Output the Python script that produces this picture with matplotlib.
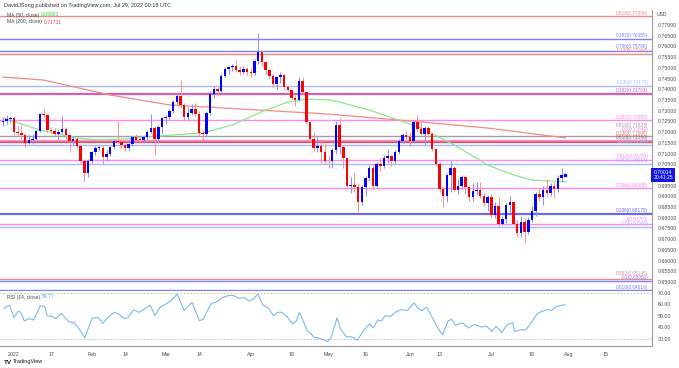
import numpy as np
import pandas as pd
import matplotlib
matplotlib.use('Agg')
import matplotlib.pyplot as plt
import matplotlib.transforms as mtransforms

plt.rcParams['font.family'] = ['Liberation Sans', 'DejaVu Sans']

# daily bars, 29 Dec 2021 .. 29 Jul 2022
dates = pd.bdate_range('2021-12-29', '2022-07-29')
first_open = 0.7245
close = [0.7252, 0.7262, 0.7266,
         0.7200, 0.7194, 0.7185, 0.7150, 0.7162, 0.7170, 0.7205, 0.7285, 0.7280, 0.7212,
         0.7206, 0.7190, 0.7200, 0.7213, 0.7185, 0.7160, 0.7170, 0.7135, 0.7063, 0.7010,
         0.7065, 0.7105, 0.7125, 0.7128, 0.7082, 0.7100, 0.7130, 0.7160, 0.7155, 0.7140,
         0.7128, 0.7145, 0.7175, 0.7165, 0.7162, 0.7178, 0.7200, 0.7220, 0.7168, 0.7225,
         0.7265, 0.7270, 0.7300, 0.7340, 0.7370, 0.7325, 0.7270, 0.7290, 0.7310, 0.7285,
         0.7195, 0.7190, 0.7290, 0.7380, 0.7402, 0.7390, 0.7460, 0.7495, 0.7505, 0.7508,
         0.7490, 0.7482, 0.7495, 0.7480, 0.7475, 0.7530, 0.7575, 0.7525, 0.7490, 0.7460,
         0.7425, 0.7455, 0.7465, 0.7410, 0.7395, 0.7360, 0.7350, 0.7440, 0.7385, 0.7245,
         0.7170, 0.7125, 0.7135, 0.7105, 0.7065, 0.7063, 0.7115, 0.7235, 0.7130, 0.7080,
         0.6950, 0.6955, 0.6945, 0.6875, 0.6945, 0.6985, 0.7030, 0.6950, 0.7050, 0.7040,
         0.7080, 0.7090, 0.7065, 0.7105, 0.7160, 0.7185, 0.7175, 0.7160, 0.7245, 0.7215,
         0.7190, 0.7220, 0.7190, 0.7120, 0.7050, 0.6935, 0.6900, 0.7000, 0.7030, 0.6930,
         0.6950, 0.6990, 0.6945, 0.6895, 0.6925, 0.6930, 0.6900, 0.6870, 0.6895, 0.6815,
         0.6855, 0.6770, 0.6795, 0.6860, 0.6875, 0.6770, 0.6730, 0.6780, 0.6735, 0.6790,
         0.6830, 0.6910, 0.6895, 0.6930, 0.6915, 0.6950, 0.6935, 0.6985, 0.7000, 0.7001]
high = [0.7268, 0.7278, 0.7277,
        0.7276, 0.7228, 0.7235, 0.7192, 0.7187, 0.7190, 0.7212, 0.7290, 0.7314, 0.7285,
        0.7225, 0.7217, 0.7215, 0.7275, 0.7222, 0.7193, 0.7180, 0.7175, 0.7140, 0.7070,
        0.7075, 0.7110, 0.7135, 0.7140, 0.7142, 0.7115, 0.7135, 0.7165, 0.7250, 0.7170,
        0.7145, 0.7150, 0.7182, 0.7190, 0.7175, 0.7185, 0.7210, 0.7285, 0.7230, 0.7235,
        0.7270, 0.7280, 0.7310, 0.7350, 0.7380, 0.7441, 0.7335, 0.7315, 0.7330, 0.7335,
        0.7300, 0.7210, 0.7300, 0.7390, 0.7415, 0.7410, 0.7470, 0.7505, 0.7510, 0.7520,
        0.7535, 0.7510, 0.7510, 0.7505, 0.7500, 0.7540, 0.7661, 0.7580, 0.7530, 0.7495,
        0.7470, 0.7462, 0.7480, 0.7470, 0.7415, 0.7400, 0.7375, 0.7458, 0.7455, 0.7390,
        0.7250, 0.7200, 0.7175, 0.7160, 0.7150, 0.7090, 0.7125, 0.7250, 0.7266, 0.7135,
        0.7080, 0.6990, 0.7015, 0.6960, 0.6955, 0.6995, 0.7050, 0.7050, 0.7060, 0.7080,
        0.7095, 0.7120, 0.7095, 0.7115, 0.7170, 0.7195, 0.7205, 0.7200, 0.7250, 0.7280,
        0.7245, 0.7230, 0.7230, 0.7200, 0.7125, 0.7060, 0.6945, 0.7010, 0.7069, 0.7040,
        0.6980, 0.7000, 0.6995, 0.6955, 0.6960, 0.6965, 0.6965, 0.6915, 0.6905, 0.6910,
        0.6875, 0.6895, 0.6810, 0.6870, 0.6900, 0.6880, 0.6790, 0.6810, 0.6800, 0.6805,
        0.6855, 0.6920, 0.6940, 0.6950, 0.6980, 0.6960, 0.6965, 0.7000, 0.7030, 0.7005]
low = [0.7230, 0.7240, 0.7243,
       0.7188, 0.7180, 0.7170, 0.7130, 0.7145, 0.7143, 0.7155, 0.7200, 0.7270, 0.7202,
       0.7195, 0.7180, 0.7170, 0.7190, 0.7170, 0.7105, 0.7140, 0.7125, 0.7050, 0.6968,
       0.6990, 0.7055, 0.7095, 0.7110, 0.7050, 0.7065, 0.7090, 0.7120, 0.7150, 0.7120,
       0.7110, 0.7110, 0.7135, 0.7155, 0.7150, 0.7150, 0.7160, 0.7195, 0.7094, 0.7150,
       0.7190, 0.7240, 0.7255, 0.7290, 0.7330, 0.7315, 0.7250, 0.7255, 0.7280, 0.7275,
       0.7180, 0.7165, 0.7180, 0.7280, 0.7360, 0.7370, 0.7385, 0.7455, 0.7470, 0.7485,
       0.7480, 0.7465, 0.7470, 0.7465, 0.7455, 0.7465, 0.7520, 0.7510, 0.7470, 0.7450,
       0.7410, 0.7400, 0.7430, 0.7400, 0.7390, 0.7355, 0.7320, 0.7345, 0.7375, 0.7240,
       0.7155, 0.7110, 0.7105, 0.7055, 0.7055, 0.7030, 0.7030, 0.7100, 0.7100, 0.7030,
       0.6945, 0.6915, 0.6920, 0.6829, 0.6860, 0.6900, 0.6970, 0.6935, 0.6945, 0.7020,
       0.7030, 0.7055, 0.7040, 0.7055, 0.7100, 0.7150, 0.7165, 0.7135, 0.7150, 0.7200,
       0.7185, 0.7140, 0.7175, 0.7110, 0.7040, 0.6920, 0.6850, 0.6875, 0.6920, 0.6925,
       0.6910, 0.6935, 0.6910, 0.6880, 0.6880, 0.6905, 0.6890, 0.6855, 0.6830, 0.6805,
       0.6800, 0.6762, 0.6765, 0.6775, 0.6825, 0.6765, 0.6715, 0.6710, 0.6681, 0.6725,
       0.6780, 0.6810, 0.6880, 0.6860, 0.6900, 0.6900, 0.6890, 0.6920, 0.6965, 0.6995]

# moving averages, read at a few bars (bar 0 = 3 Jan 2022)
ma50_bar = [-3, 7, 17, 23, 30, 39, 51, 59, 68, 74, 79, 85, 88, 96, 104, 110, 119, 128, 135, 140, 149]
ma50_val = [0.7266, 0.7210, 0.7172, 0.7163, 0.7168, 0.7182, 0.7196, 0.7233, 0.7303, 0.7340, 0.7354,
            0.7350, 0.7340, 0.7303, 0.7256, 0.7219, 0.7140, 0.7046, 0.7000, 0.6976, 0.6968]
ma200_bar = [-3, 8, 26, 42, 64, 85, 107, 128, 149]
ma200_val = [0.7457, 0.7443, 0.7373, 0.7327, 0.7305, 0.7284, 0.7252, 0.7219, 0.7173]

rsi_bar = [-2.7, -1.2, 0, 1.1, 1.8, 2.8, 4.1, 5.3, 7.1, 8.3, 9, 10.3, 11.3, 12.8, 13.8, 14.8, 16.3,
           17.8, 19.1, 21.1, 22.8, 24, 25.3, 27.1, 28.3, 29.8, 30.8, 32.3, 33.8, 35.3, 36.8, 38.1,
           39.5, 40.8, 42.3, 44.1, 46, 48.1, 50.1, 51.1, 53.3, 54.8, 56.3, 58.1, 59.3, 60.8, 62.3,
           63.5, 64.8, 65.9, 67.3, 68.8, 70.1, 71.3, 72.3, 73.8, 75.3, 76.3, 77.1, 79.3, 81.3, 82.8,
           84.8, 85.8, 87.3, 88.3, 89.8, 91.3, 92.8, 94.3, 96.1, 97.1, 98.3, 99.3, 100.3, 101.8,
           103.3, 104.8, 106.3, 108.1, 109.3, 110.3, 111.5, 112.8, 114.3, 115.8, 117.3, 118.3,
           119.3, 121.3, 122.8, 124.3, 126.3, 127.8, 129.1, 130.3, 131.8, 133.3, 134.8, 135.3,
           136.8, 138.3, 139.8, 141.3, 142.8, 144.1, 145.3, 146.3, 147.8, 149]
rsi_val = [56.9, 59.3, 48.6, 54.1, 53.2, 45.6, 47.7, 46.5, 58.7, 58.4, 50.2, 49.5, 47.7, 52.3, 48.6,
           45.0, 44.0, 37.9, 30.9, 48.0, 48.6, 43.4, 48.6, 53.2, 51.7, 47.7, 48.6, 55.3, 53.2, 56.3,
           59.3, 50.2, 57.8, 59.9, 63.0, 69.1, 54.7, 61.8, 45.9, 47.1, 60.8, 62.4, 66.0, 67.9, 67.9,
           65.4, 66.0, 63.0, 64.8, 69.4, 59.3, 56.9, 50.2, 53.2, 53.2, 49.5, 43.1, 45.6, 53.2, 37.0,
           31.2, 30.3, 27.6, 31.8, 48.3, 38.5, 31.8, 31.8, 28.8, 36.4, 43.1, 39.5, 46.5, 45.6, 50.2,
           49.5, 53.8, 55.6, 54.7, 61.5, 56.3, 54.7, 57.8, 50.2, 41.0, 33.4, 45.6, 47.1, 41.9, 44.0,
           39.5, 42.5, 40.4, 41.0, 36.4, 41.0, 35.5, 42.5, 44.0, 36.4, 37.9, 37.9, 44.0, 51.7, 54.1,
           55.6, 54.7, 57.8, 59.3, 59.77]

# fibonacci levels: (level text, price, colour, width)
fib_levels = [
    ('0.618', 0.77399, '#e88a8a', 1.0),
    ('0.382', 0.76355, '#7f7fff', 1.0),
    ('0.786', 0.75796, '#7f7fff', 1.0),
    ('0.100', 0.75660, '#e88a8a', 1.0),
    ('0.236', 0.74170, '#a8b8ff', 1.0),
    ('0.382', 0.73793, '#d65db1', 1.6),
    ('0.382', 0.72557, '#ff88ee', 1.0),
    ('0.618', 0.71823, '#a0a0a0', 1.0),
    ('0.5', 0.71642, '#ff88ee', 1.0),
    ('0.236', 0.71590, '#e07070', 1.0),
    ('0.618', 0.71550, '#b06060', 1.0),
    ('0.382', 0.71400, '#a8b8ff', 1.0),
    ('0.618', 0.70704, '#ff88ee', 1.0),
    ('0.382', 0.70514, '#a8b8ff', 1.0),
    ('0.786', 0.69380, '#ff88ee', 1.0),
    ('0.236', 0.68170, '#6b6be8', 1.6),
    ('1', 0.67700, '#ff88ee', 1.0),
    ('0.5', 0.67580, '#a8b8ff', 1.0),
    ('0.382', 0.65145, '#e88a8a', 1.0),
    ('0.1', 0.65050, '#7f7fff', 1.0),
    ('0.618', 0.64616, '#7f7fff', 1.0),
]

x_labels = ['2022', '17', 'Feb', '14', 'Mar', '14', 'Apr', '18', 'May', '16', 'Jun', '13', 'Jul', '18', 'Aug', '15']
x_label_bar = [0, 10, 21, 30, 41, 50, 64, 75, 85, 95, 107, 115, 129, 140, 150, 160]

UP = '#0000ff'
DOWN = '#ff0000'
TXT = '#4a4a4a'

bars = np.arange(len(dates)) - 3
c = np.array(close)
o = np.concatenate([[first_open], c[:-1]])   # fx daily bars open at prior close
h = np.array(high)
l = np.array(low)
up = c >= o

W, H = 679, 368
fig = plt.figure(figsize=(W / 100, H / 100), dpi=100, facecolor='white')
ax = fig.add_axes([0, 1 - 291 / H, 652 / W, 281 / H])
ax_rsi = fig.add_axes([0, 1 - 346 / H, 652 / W, 55 / H], sharex=ax)

xmin, xmax = -14 / 3.7, (652 - 14) / 3.7

# fib lines, label sits just above its line; crowded labels are pushed up a bit
last_y = None
for lvl, price, col, lw in sorted(fib_levels, key=lambda f: f[1]):
    ax.axhline(price, color=col, lw=lw, zorder=1)
    ty = price + 0.0003
    if last_y is not None and ty < last_y + 0.0019:
        ty = last_y + 0.0019
    last_y = ty
    ax.text(xmax - 1, ty, '%s(%.5f)' % (lvl, price), color=col, fontsize=3.4,
            ha='right', va='bottom', zorder=5)

ax.plot(ma200_bar, ma200_val, color='#f28b82', lw=0.9, zorder=2)
ax.plot(ma50_bar, ma50_val, color='#8ee68e', lw=0.9, zorder=2)

# candles
cols = np.where(up, UP, DOWN)
wcols = np.where(up, '#8c8cff', '#ff9090')
ax.vlines(bars, l, h, colors=wcols, lw=0.7, zorder=3)
body_lo = np.minimum(o, c)
body_h = np.maximum(np.abs(c - o), 0.00035)
ax.bar(bars, body_h, bottom=body_lo, width=0.66, color=cols, lw=0, zorder=4)

ax.set_xlim(xmin, xmax)
ax.set_ylim(0.77 - 266 / 2141.7, 0.77 + 15 / 2141.7)
ax.yaxis.tick_right()
yt = [v for v in np.arange(0.65, 0.7701, 0.005) if abs(v - 0.70) > 1e-6]   # 0.70000 sits under the price tag
ax.set_yticks(yt)
ax.yaxis.set_major_formatter(matplotlib.ticker.FormatStrFormatter('%.5f'))
ax.tick_params(axis='y', length=0, labelsize=3.8, labelcolor=TXT, pad=4)
ax.tick_params(axis='x', bottom=False, labelbottom=False)
for s in ['left', 'top']:
    ax.spines[s].set_visible(False)
ax.spines['right'].set_color('#9a9a9a')
ax.spines['right'].set_linewidth(0.8)
ax.spines['bottom'].set_color('#d8d8d8')
ax.spines['bottom'].set_linewidth(0.6)

# last price tag
tr = mtransforms.blended_transform_factory(ax.transAxes, ax.transData)
ax.text(1.002, c[-1], '%.5f\n20:41:25' % 0.70014, transform=tr, fontsize=3.6, color='white',
        ha='left', va='center', linespacing=1.1,
        bbox=dict(boxstyle='square,pad=0.4', fc='#1515e0', ec='none'), clip_on=False, zorder=10)
ax.plot([bars[-1]], [c[-1]], marker='s', ms=1.6, color=UP, zorder=5)

# rsi pane
ax_rsi.plot(rsi_bar, rsi_val, color='#7db9f0', lw=0.8)
for lv in (70, 30):
    ax_rsi.axhline(lv, color='#b8b8b8', lw=0.6, ls=(0, (2, 2)))
ax_rsi.set_ylim(30 - 7 / 1.125, 70 + 2 / 1.125)
ax_rsi.yaxis.tick_right()
ax_rsi.set_yticks([30, 40, 50, 60, 70])
ax_rsi.yaxis.set_major_formatter(matplotlib.ticker.FormatStrFormatter('%.2f'))
ax_rsi.tick_params(axis='y', length=0, labelsize=3.8, labelcolor=TXT, pad=4)
ax_rsi.set_xticks(x_label_bar)
ax_rsi.set_xticklabels(x_labels)
ax_rsi.tick_params(axis='x', length=0, labelsize=3.8, labelcolor=TXT, pad=4)
for s in ['left', 'top']:
    ax_rsi.spines[s].set_visible(False)
ax_rsi.spines['right'].set_color('#9a9a9a')
ax_rsi.spines['right'].set_linewidth(0.8)
ax_rsi.spines['bottom'].set_color('#9a9a9a')
ax_rsi.spines['bottom'].set_linewidth(0.8)

# header texts
fig.text(4 / W, 1 - 6 / H, 'DavidJSong published on TradingView.com, Jul 29, 2022 00:18 UTC',
         fontsize=4, color='#333333', va='center')
fig.text(7 / W, 1 - 15 / H, 'MA (50, close)', fontsize=3.6, color=TXT, va='center')
fig.text(41 / W, 1 - 15 / H, '0.69683', fontsize=3.6, color='#3fd13f', va='center')
fig.text(7 / W, 1 - 22 / H, 'MA (200, close)', fontsize=3.6, color=TXT, va='center')
fig.text(44 / W, 1 - 22 / H, '0.71731', fontsize=3.6, color='#ff4040', va='center')
fig.text(7 / W, 1 - 297 / H, 'RSI (14, close)', fontsize=3.6, color=TXT, va='center')
fig.text(42 / W, 1 - 297 / H, '59.77', fontsize=3.6, color='#4ea6f0', va='center')
fig.text(657 / W, 1 - 15 / H, 'USD', fontsize=3.6, color=TXT, va='center')
fig.text(4 / W, 1 - 362 / H, 'TV', fontsize=4.5, color='#131722', va='center', weight='bold')
fig.text(13 / W, 1 - 362 / H, 'TradingView', fontsize=4, color='#131722', va='center')

fig.savefig('out.png', dpi=100, facecolor='white')
